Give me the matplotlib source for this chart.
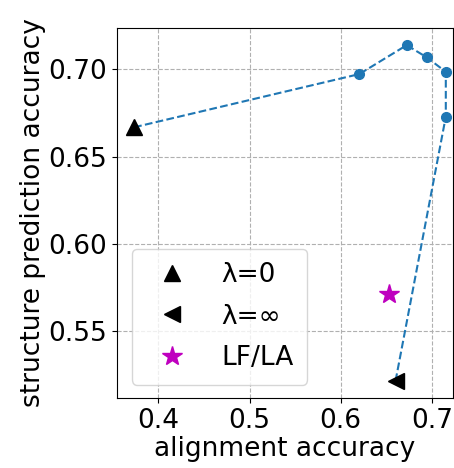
import numpy as np
import matplotlib
matplotlib.use('Agg')
import matplotlib.pyplot as plt

# tradeoff curve (lambda sweep)
align_acc = [0.3733, 0.6204, 0.6725, 0.6945, 0.7154, 0.7154, 0.6603]
struct_acc = [0.6668, 0.6973, 0.7139, 0.7069, 0.6986, 0.6729, 0.5215]

lf_la_x = [0.6530]
lf_la_y = [0.5711]

xticks = [0.4, 0.5, 0.6, 0.7]
yticks = [0.55, 0.60, 0.65, 0.70]

fig = plt.figure(figsize=(4.54, 4.68), dpi=100)
ax = fig.add_axes([0.258, 0.150, 0.740, 0.790])

ax.plot(align_acc, struct_acc, '--', color='#1f77b4', linewidth=1.5, zorder=2)
ax.plot(align_acc[1:-1], struct_acc[1:-1], 'o', color='#1f77b4', markersize=7, zorder=3)
ax.plot(align_acc[0], struct_acc[0], '^', color='black', markersize=12, label='λ=0', linestyle='none', zorder=4)
ax.plot(align_acc[-1], struct_acc[-1], '<', color='black', markersize=12, label='λ=∞', linestyle='none', zorder=4)
ax.plot(lf_la_x, lf_la_y, '*', color='m', markersize=15, label='LF/LA', linestyle='none', zorder=4)

ax.set_xlim(0.3546, 0.7234)
ax.set_ylim(0.5116, 0.7237)
ax.set_xticks(xticks)
ax.set_xticklabels(['0.4', '0.5', '0.6', '0.7'])
ax.set_yticks(yticks)
ax.set_yticklabels(['0.55', '0.60', '0.65', '0.70'])
ax.tick_params(labelsize=19)
ax.grid(True, linestyle='--', color='#b0b0b0', linewidth=0.8)
ax.set_axisbelow(True)

ax.set_xlabel('alignment accuracy', fontsize=19, labelpad=2)
ax.set_ylabel('structure prediction accuracy', fontsize=19, labelpad=2)

ax.legend(loc='lower left', fontsize=19, handletextpad=0.9, borderpad=0.5,
          labelspacing=0.6, bbox_to_anchor=(0.005, 0.0))

fig.savefig('out.png', dpi=100)
